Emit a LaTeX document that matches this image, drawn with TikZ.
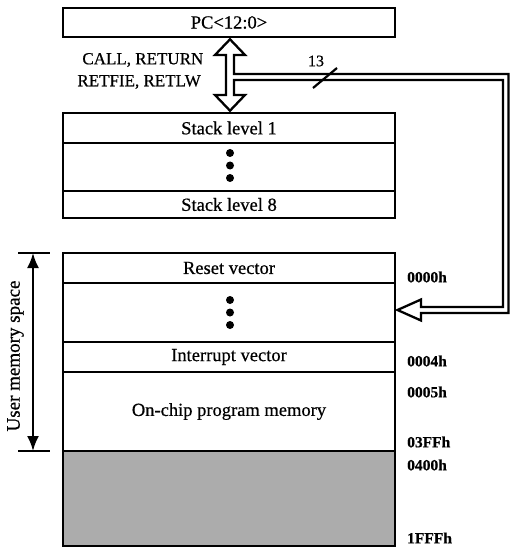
\documentclass[tikz,border=0pt]{standalone}
\usepackage{fontspec}
\setmainfont{Liberation Serif}[FakeBold=0.6]
\usetikzlibrary{arrows.meta,calc}
\definecolor{romgray}{RGB}{172,172,172}
\tikzset{
  cell/.style={draw, line width=2.6pt, minimum width=332pt, inner sep=0pt, font=\fontsize{18.5}{21}\selectfont},
  dotmark/.style={fill=black, circle, inner sep=0pt, minimum size=8pt},
  addr/.style={anchor=west, inner sep=0pt, font=\fontsize{15.5}{18}\selectfont\bfseries},
  lbl/.style={anchor=east, inner sep=0pt, font=\fontsize{17}{20}\selectfont},
  bigarrow/.style={draw, line width=2.3pt, line join=miter},
  tick/.style={line width=2.5pt},
}
\begin{document}
\begin{tikzpicture}[x=1pt,y=-1pt]
\useasboundingbox (0,0) rectangle (510,548);
% PC box
\node[cell, minimum height=29pt] (pc) at (229,22.5) {PC<12:0>};
% stack
\node[cell, minimum height=30pt] (s1) at (229,128) {Stack level 1};
\node[cell, minimum height=48pt] (sd) at (229,167) {};
\node[cell, minimum height=27pt] (s8) at (229,204.5) {Stack level 8};
\node[dotmark] (sd1) at (230,153) {};
\node[dotmark] (sd2) at (230,165.5) {};
\node[dotmark] (sd3) at (230,178) {};
% memory
\node[cell, minimum height=30pt] (reset) at (229,268) {Reset vector};
\node[cell, minimum height=59pt] (md) at (229,312.5) {};
\node[cell, minimum height=30pt] (intr) at (229,357) {Interrupt vector};
\node[cell, minimum height=79pt] (onchip) at (229,411.5) {On-chip program memory};
\node[cell, minimum height=95pt, fill=romgray] (ext) at (229,498.5) {};
\node[dotmark] (md1) at (230,300) {};
\node[dotmark] (md2) at (230,312.5) {};
\node[dotmark] (md3) at (230,325) {};
% addresses
\node[addr] (a0) at (407,277) {0000h};
\node[addr] (a4) at (407,361) {0004h};
\node[addr] (a5) at (407,392) {0005h};
\node[addr] (a3ff) at (407,442) {03FFh};
\node[addr] (a400) at (407,465) {0400h};
\node[addr] (a1fff) at (407,538) {1FFFh};
% instruction labels
\node[lbl] (l1) at (203.5,60) {CALL, RETURN};
\node[lbl] (l2) at (201,82) {RETFIE, RETLW};
% double arrow and bus
\coordinate (tipT) at ($(pc.south)+(1,1)$);
\coordinate (tipB) at ($(s1.north)+(1,-1)$);
\coordinate (tipR) at (397.5,310);
\path[bigarrow]
  (tipT) -- (245,55) -- (234,55) -- (234,74) -- (508.5,74) -- (508.5,313)
  -- (421,313) -- (421,320.5) -- (tipR) -- (421,299.5) -- (421,307)
  -- (503,307) -- (503,80) -- (234,80) -- (234,95) -- (245,95) -- (tipB)
  -- (215,95) -- (226,95) -- (226,55) -- (215,55) -- cycle;
% bus width mark
\coordinate (sl1) at (313,88);
\coordinate (sl2) at (337,68);
\draw[line width=2.2pt] (sl1) -- (sl2);
\node[inner sep=0pt, font=\fontsize{16}{18}\selectfont] (n13) at (316,61) {13};
% user memory space dimension
\coordinate (ut1) at (18,253);
\coordinate (ut2) at (50,253);
\coordinate (ub1) at (18,451);
\coordinate (ub2) at (50,451);
\coordinate (ua) at (33,253);
\coordinate (ub) at (33,451);
\draw[tick] (ut1) -- (ut2);
\draw[tick] (ub1) -- (ub2);
\draw[line width=2.2pt, {Latex[length=15pt,width=12pt]}-{Latex[length=15pt,width=12pt]}] (ua) -- (ub);
\node[rotate=90, inner sep=0pt, font=\fontsize{19}{21}\selectfont] (ums) at (15.5,356) {User memory space};
\end{tikzpicture}
\end{document}
